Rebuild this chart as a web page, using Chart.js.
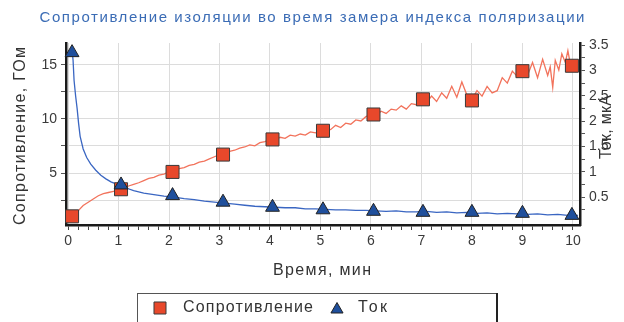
<!DOCTYPE html>
<html>
<head>
<meta charset="utf-8">
<script src="https://cdn.jsdelivr.net/npm/chart.js@4.4.1/dist/chart.umd.min.js"></script>
<style>
  html, body { margin: 0; padding: 0; background: #ffffff; }
  #wrap { width: 624px; height: 322px; }
</style>
</head>
<body>
<div id="wrap"><canvas id="c" width="624" height="322"></canvas></div>
<script>
// Insulation resistance trace (GOhm) recorded during the polarization index test
const resTraceTime = [
  0.1, 0.2, 0.3, 0.4, 0.5, 0.6, 0.7, 0.8, 0.9, 1.0,
  1.1, 1.2, 1.3, 1.4, 1.5, 1.6, 1.7, 1.8, 1.9, 2.0,
  2.1, 2.2, 2.3, 2.4, 2.5, 2.6, 2.7, 2.8, 2.9, 3.0,
  3.1, 3.2, 3.3, 3.4, 3.5, 3.6, 3.7, 3.8, 3.9, 4.0,
  4.1, 4.2, 4.3, 4.4, 4.5, 4.6, 4.7, 4.8, 4.9, 5.0,
  5.1, 5.2, 5.3, 5.4, 5.5, 5.6, 5.7, 5.8, 5.9, 6.0,
  6.1, 6.2, 6.3, 6.4, 6.5, 6.6, 6.7, 6.8, 6.9, 7.0,
  7.1, 7.2, 7.3, 7.4, 7.5, 7.6, 7.7, 7.8, 7.9, 8.0,
  8.1, 8.2, 8.3, 8.4, 8.5, 8.6, 8.7, 8.8, 8.9, 9.0,
  9.1, 9.2, 9.3, 9.4, 9.5, 9.55, 9.6, 9.65, 9.72, 9.78,
  9.85, 9.9, 9.95, 10.0, 10.05, 10.1
];
const resTraceValue = [
  1.0, 1.5, 2.0, 2.3, 2.6, 2.9, 3.1, 3.2, 3.3, 3.4,
  3.6, 3.8, 3.95, 4.1, 4.3, 4.5, 4.6, 4.8, 4.9, 5.1,
  5.2, 5.4, 5.5, 5.7, 5.8, 6.0, 6.1, 6.3, 6.5, 6.7,
  6.8, 7.0, 7.1, 7.3, 7.4, 7.6, 7.5, 7.8, 7.9, 8.1,
  8.0, 8.3, 8.2, 8.5, 8.4, 8.6, 8.5, 8.8, 8.7, 8.9,
  9.1, 9.0, 9.4, 9.2, 9.6, 9.5, 9.9, 9.8, 10.2, 10.4,
  10.3, 10.7, 10.5, 10.9, 10.8, 11.2, 10.9, 11.4, 11.3, 11.7,
  11.5, 12.1, 11.6, 12.4, 11.9, 13.0, 12.0, 13.4, 12.2, 11.8,
  12.6, 12.1, 13.0, 12.4, 12.6, 13.8, 13.3, 14.4, 13.9, 14.4,
  14.0, 15.2, 13.8, 15.5, 14.0, 14.8, 12.9, 15.4, 14.5, 16.0,
  15.2, 16.3, 15.0, 15.3, 14.8, 15.2
];

// Leakage current trace (uA)
const curTraceTime = [
  0.08, 0.1, 0.12, 0.15, 0.18, 0.21, 0.24, 0.3, 0.37, 0.45,
  0.55, 0.65, 0.75, 0.85, 1.0, 1.15, 1.3, 1.5, 1.7, 1.9,
  2.1, 2.3, 2.5, 2.7, 2.9, 3.1, 3.3, 3.5, 3.7, 3.9,
  4.1, 4.3, 4.5, 4.7, 4.9, 5.1, 5.3, 5.5, 5.7, 5.9,
  6.1, 6.3, 6.5, 6.7, 6.9, 7.1, 7.3, 7.5, 7.7, 7.9,
  8.1, 8.3, 8.5, 8.7, 8.9, 9.1, 9.3, 9.5, 9.7, 9.9, 10.1
];
const curTraceValue = [
  3.4, 3.2, 2.8, 2.5, 2.25, 1.95, 1.7, 1.45, 1.28, 1.15,
  1.03, 0.93, 0.86, 0.8, 0.74, 0.68, 0.63, 0.58, 0.55, 0.52,
  0.5, 0.47, 0.45, 0.42, 0.4, 0.38, 0.36, 0.34, 0.32, 0.31,
  0.3, 0.29, 0.29, 0.27, 0.27, 0.26, 0.25, 0.25, 0.24, 0.24,
  0.23, 0.22, 0.23, 0.21, 0.21, 0.22, 0.2, 0.21, 0.19, 0.2,
  0.18, 0.19, 0.17, 0.18, 0.17, 0.16, 0.17, 0.15, 0.16, 0.14, 0.14
];

// Readings taken once per minute
const markerTime = [0.08, 1.05, 2.07, 3.07, 4.05, 5.05, 6.05, 7.03, 8.0, 9.0, 9.98];
const resMarkers = [1.0, 3.5, 5.1, 6.7, 8.1, 8.9, 10.4, 11.8, 11.7, 14.4, 14.9];
const curMarkers = [3.35, 0.74, 0.53, 0.4, 0.3, 0.25, 0.22, 0.2, 0.2, 0.18, 0.14];

// Axis tick labels
const timeTickLabels = [0, 1, 2, 3, 4, 5, 6, 7, 8, 9, 10];
const resTickLabels = [5, 10, 15];
const curTickLabels = [0.5, 1, 1.5, 2, 2.5, 3, 3.5];

const titleText = 'Сопротивление изоляции во время замера индекса поляризации';
const xTitle = 'Время, мин';
const yTitle = 'Сопротивление, ГОм';
const y1Title = 'Ток, мкА';
const resLabel = 'Сопротивление';
const curLabel = 'Ток';

const FONT = '"Liberation Sans", Arial, sans-serif';
const RED_LINE = '#f2735c';
const RED_FILL = '#e8482b';
const BLUE_LINE = '#3a66c2';
const BLUE_FILL = '#1f4f9c';
const MARK_EDGE = '#3a3a3a';

const zip = (xs, ys) => xs.map((x, i) => ({ x: x, y: ys[i] }));
const near = (a, b) => Math.abs(a - b) < 1e-6;

// minor ticks between labelled values
const xTicks = [];
for (let i = 0; i <= 50; i++) xTicks.push(Math.round(i * 2) / 10);
const yTicks = [];
for (let i = 1; i <= 6; i++) yTicks.push(i * 2.5);
const y1Ticks = [];
for (let i = 1; i <= 14; i++) y1Ticks.push(i * 0.25);

// text stretched to a given width with extra spacing between letters
function drawSpaced(ctx, text, x, y, width, font, color, rotate) {
  ctx.save();
  ctx.font = font;
  ctx.fillStyle = color;
  ctx.textBaseline = 'middle';
  ctx.textAlign = 'left';
  const w0 = ctx.measureText(text).width;
  const n = Math.max(1, text.length - 1);
  const spacing = Math.max(0, (width - w0) / n);
  const hasLS = ('letterSpacing' in ctx);
  if (hasLS) ctx.letterSpacing = spacing + 'px';
  ctx.translate(x, y);
  if (rotate) ctx.rotate(rotate);
  if (hasLS) {
    ctx.fillText(text, -width / 2, 0);
  } else {
    ctx.scale(Math.max(w0, width) / w0, 1);
    ctx.fillText(text, -w0 / 2, 0);
  }
  ctx.restore();
}

const decorations = {
  id: 'decorations',
  afterDraw(chart) {
    const ctx = chart.ctx;
    // title
    drawSpaced(ctx, titleText, 312, 18, 545, '15px ' + FONT, '#3b6cb5', 0);
    // axis titles
    drawSpaced(ctx, xTitle, 322, 271, 98, '16px ' + FONT, '#333333', 0);
    drawSpaced(ctx, yTitle, 21, 136, 178, '16px ' + FONT, '#333333', -Math.PI / 2);
    drawSpaced(ctx, y1Title, 607, 127, 64, '16px ' + FONT, '#333333', -Math.PI / 2);

    // legend box
    ctx.save();
    ctx.strokeStyle = '#555555';
    ctx.lineWidth = 1;
    ctx.strokeRect(137.5, 293.5, 359, 40);
    ctx.strokeStyle = '#222222';
    ctx.lineWidth = 2;
    ctx.beginPath();
    ctx.moveTo(497, 293);
    ctx.lineTo(497, 322);
    ctx.stroke();
    ctx.restore();

    const dsRes = chart.data.datasets[1];
    const dsCur = chart.data.datasets[0];
    ctx.save();
    ctx.lineWidth = 1;
    ctx.fillStyle = dsRes.backgroundColor;
    ctx.strokeStyle = dsRes.borderColor;
    Chart.helpers.drawPoint(ctx, { pointStyle: 'rect', radius: 8.5, borderWidth: 1 }, 160, 308);
    ctx.fillStyle = dsCur.backgroundColor;
    ctx.strokeStyle = dsCur.borderColor;
    Chart.helpers.drawPoint(ctx, { pointStyle: 'triangle', radius: 7, borderWidth: 1 }, 337, 309.5);
    ctx.restore();
    drawSpaced(ctx, resLabel, 248, 308, 130, '16px ' + FONT, '#333333', 0);
    drawSpaced(ctx, curLabel, 372.5, 308, 29, '16px ' + FONT, '#333333', 0);
  }
};

const tickFont = { family: FONT, size: 14 };

new Chart(document.getElementById('c'), {
  type: 'line',
  data: {
    datasets: [
      {
        label: curLabel,
        data: zip(markerTime, curMarkers),
        yAxisID: 'y1',
        showLine: false,
        pointStyle: 'triangle',
        pointRadius: 8,
        backgroundColor: BLUE_FILL,
        borderColor: '#222222',
        borderWidth: 1,
        clip: false,
        order: 0
      },
      {
        label: resLabel,
        data: zip(markerTime, resMarkers),
        yAxisID: 'y',
        showLine: false,
        pointStyle: 'rect',
        pointRadius: 9.2,
        backgroundColor: RED_FILL,
        borderColor: MARK_EDGE,
        borderWidth: 1,
        clip: false,
        order: 1
      },
      {
        label: 'current trace',
        data: zip(curTraceTime, curTraceValue),
        yAxisID: 'y1',
        borderColor: BLUE_LINE,
        borderWidth: 1.3,
        pointRadius: 0,
        tension: 0,
        fill: false,
        order: 2
      },
      {
        label: 'resistance trace',
        data: zip(resTraceTime, resTraceValue),
        yAxisID: 'y',
        borderColor: RED_LINE,
        borderWidth: 1.3,
        pointRadius: 0,
        tension: 0,
        fill: false,
        order: 3
      }
    ]
  },
  options: {
    responsive: false,
    animation: false,
    events: [],
    layout: { padding: { top: 43, left: 0, right: 0, bottom: 0 } },
    plugins: {
      legend: { display: false },
      title: { display: false },
      tooltip: { enabled: false }
    },
    scales: {
      x: {
        type: 'linear',
        position: 'bottom',
        min: -0.04,
        max: 10.14,
        afterBuildTicks: (s) => { s.ticks = xTicks.map(v => ({ value: v })); },
        afterFit: (s) => { s.height = 97; },
        ticks: {
          autoSkip: false,
          maxRotation: 0,
          padding: 3,
          color: '#3a3a3a',
          font: tickFont,
          callback: (v) => {
            const hit = timeTickLabels.find(t => near(t, v));
            return hit !== undefined ? String(hit) : '';
          }
        },
        grid: {
          color: (c) => timeTickLabels.some(t => near(t, c.tick.value)) ? '#dcdcdc' : 'rgba(0,0,0,0)',
          tickColor: '#444444',
          tickLength: 5,
          lineWidth: 1
        },
        border: { display: true, color: '#1a1a1a', width: 2.5 }
      },
      y: {
        type: 'linear',
        position: 'left',
        min: 0.2,
        max: 17,
        afterBuildTicks: (s) => { s.ticks = yTicks.map(v => ({ value: v })); },
        afterFit: (s) => { s.width = 66; },
        ticks: {
          autoSkip: false,
          padding: 4,
          color: '#3a3a3a',
          font: tickFont,
          callback: (v) => {
            const hit = resTickLabels.find(t => near(t, v));
            return hit !== undefined ? String(hit) : '';
          }
        },
        grid: {
          color: '#dcdcdc',
          tickColor: '#555555',
          tickLength: 5,
          lineWidth: 1
        },
        border: { display: true, color: '#1a1a1a', width: 2.5 }
      },
      y1: {
        type: 'linear',
        position: 'right',
        min: -0.05,
        max: 3.54,
        afterBuildTicks: (s) => { s.ticks = y1Ticks.map(v => ({ value: v })); },
        afterFit: (s) => { s.width = 44; },
        ticks: {
          autoSkip: false,
          padding: 4,
          color: '#3a3a3a',
          font: tickFont,
          callback: (v) => {
            const hit = curTickLabels.find(t => near(t, v));
            return hit !== undefined ? String(hit) : '';
          }
        },
        grid: {
          drawOnChartArea: false,
          tickColor: '#555555',
          tickLength: 5
        },
        border: { display: true, color: '#1a1a1a', width: 2.5 }
      }
    }
  },
  plugins: [decorations]
});
</script>
</body>
</html>
